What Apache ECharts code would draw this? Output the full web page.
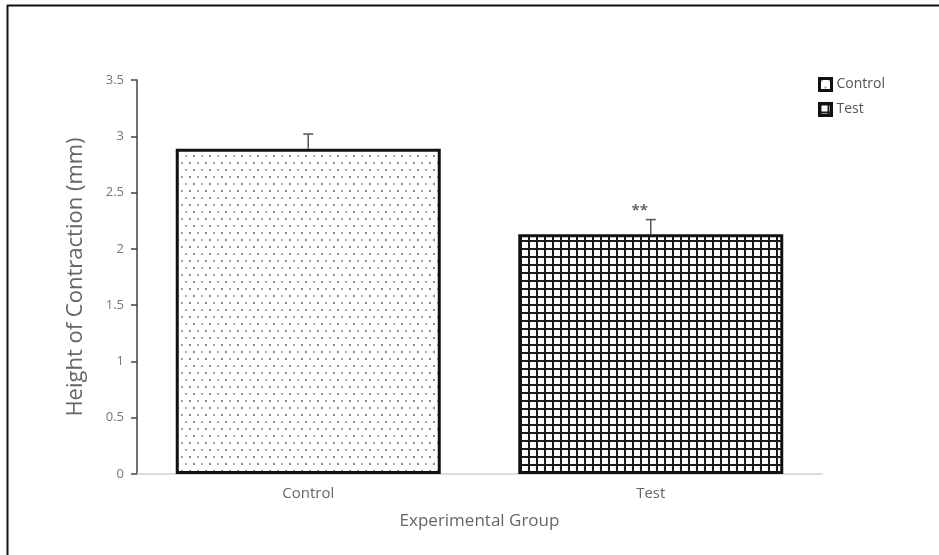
<!DOCTYPE html>
<html>
<head>
<meta charset="utf-8">
<style>
  html, body { margin: 0; padding: 0; background: #fff; }
  #chart { width: 939px; height: 555px; }
</style>
<script src="https://cdn.jsdelivr.net/npm/echarts@6/dist/echarts.min.js"></script>
</head>
<body>
<div id="chart"></div>
<script>
// Group names and measured values
const categories = ['Control', 'Test'];
const meanHeight = [2.89, 2.13];
const errorUpper = [0.13, 0.13];
const significance = ['', '**'];
const yTicks = [0, 0.5, 1, 1.5, 2, 2.5, 3, 3.5];

const FONT = '"Open Sans", "Liberation Sans", sans-serif';

// Stippled fill for the control bar
function dotTile() {
  const c = document.createElement('canvas');
  c.width = 16; c.height = 14;
  const g = c.getContext('2d');
  g.fillStyle = '#ffffff';
  g.fillRect(0, 0, 16, 14);
  const dots = [[2, 2, '#555'], [10, 2, '#888'], [6, 9, '#777'], [14, 9, '#555']];
  dots.forEach(([x, y, col]) => {
    g.fillStyle = col;
    g.beginPath();
    g.arc(x, y, 0.9, 0, Math.PI * 2);
    g.fill();
  });
  return c;
}

// Cross-hatched grid fill for the test bar
function gridTile() {
  const c = document.createElement('canvas');
  c.width = 8; c.height = 8;
  const g = c.getContext('2d');
  g.fillStyle = '#ffffff';
  g.fillRect(0, 0, 8, 8);
  g.fillStyle = '#1a1a1a';
  g.fillRect(0, 0, 2, 8);
  g.fillRect(0, 0, 8, 2);
  return c;
}

const fills = [
  { image: dotTile(), repeat: 'repeat' },
  { image: gridTile(), repeat: 'repeat' }
];

const chart = echarts.init(document.getElementById('chart'), null, { renderer: 'canvas' });

const barSeries = categories.map((name, i) => ({
  name: name,
  type: 'bar',
  barWidth: 265,
  barGap: '-100%',
  data: categories.map((_, j) => (j === i ? meanHeight[j] : '-')),
  itemStyle: {
    color: fills[i],
    borderColor: '#111',
    borderWidth: 3
  },
  z: 2
}));

const errorSeries = {
  type: 'custom',
  name: 'error',
  z: 3,
  data: categories.map((c, i) => [i, meanHeight[i], errorUpper[i]]),
  renderItem: function (params, api) {
    const x = api.value(0);
    const v = api.value(1);
    const e = api.value(2);
    const mark = significance[params.dataIndex];
    const base = api.coord([x, v]);
    const top = api.coord([x, v + e]);
    const children = [
      { type: 'line', shape: { x1: base[0], y1: base[1], x2: top[0], y2: top[1] },
        style: { stroke: '#555', lineWidth: 1.5 } },
      { type: 'line', shape: { x1: top[0] - 5, y1: top[1], x2: top[0] + 5, y2: top[1] },
        style: { stroke: '#555', lineWidth: 1.5 } }
    ];
    if (mark) {
      children.push({
        type: 'text',
        style: {
          text: mark, x: top[0] - 11, y: top[1] - 9,
          fill: '#666', font: 'bold 15px ' + FONT,
          align: 'center', verticalAlign: 'middle'
        }
      });
    }
    return { type: 'group', children: children };
  }
};

chart.setOption({
  backgroundColor: '#ffffff',
  animation: false,
  grid: { left: 137, top: 80, right: 117, bottom: 81 },
  legend: {
    data: categories,
    orient: 'vertical',
    left: 813,
    top: 72,
    icon: 'rect',
    itemWidth: 12,
    itemHeight: 12,
    itemGap: 10,
    itemStyle: { borderColor: '#111', borderWidth: 3 },
    textStyle: { color: '#555', fontFamily: FONT, fontSize: 14 }
  },
  xAxis: {
    type: 'category',
    data: categories,
    name: 'Experimental Group',
    nameLocation: 'middle',
    nameGap: 39,
    nameTextStyle: { color: '#666', fontFamily: FONT, fontSize: 17 },
    axisLine: { lineStyle: { color: '#d0d0d0', width: 1.5 } },
    axisTick: { show: false },
    axisLabel: { color: '#666', fontFamily: FONT, fontSize: 15, margin: 12 }
  },
  yAxis: {
    type: 'value',
    min: yTicks[0],
    max: yTicks[yTicks.length - 1],
    interval: 0.5,
    name: 'Height of Contraction (mm)',
    nameLocation: 'middle',
    nameGap: 50,
    nameTextStyle: { color: '#666', fontFamily: FONT, fontSize: 22 },
    splitLine: { show: false },
    axisLine: { show: true, lineStyle: { color: '#444', width: 1.5 } },
    axisTick: { show: true, inside: false, length: 6, lineStyle: { color: '#444', width: 1.5 } },
    axisLabel: { color: '#777', fontFamily: FONT, fontSize: 13, margin: 13 }
  },
  graphic: [
    { type: 'line', shape: { x1: 7, y1: 5.5, x2: 939, y2: 5.5 }, style: { stroke: '#111', lineWidth: 2 } },
    { type: 'line', shape: { x1: 7.5, y1: 5, x2: 7.5, y2: 555 }, style: { stroke: '#111', lineWidth: 2 } }
  ],
  series: barSeries.concat([errorSeries])
});
</script>
</body>
</html>
